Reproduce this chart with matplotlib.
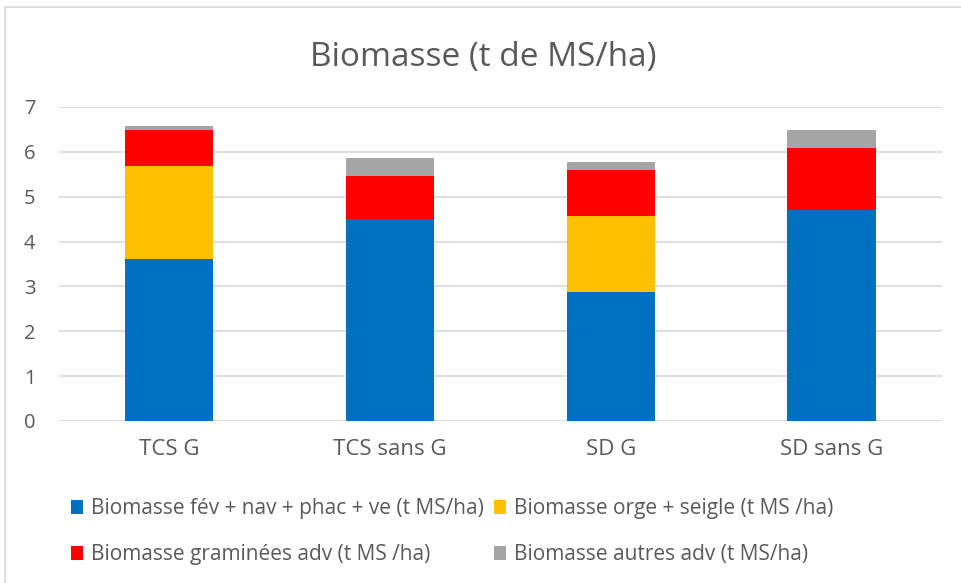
import matplotlib.pyplot as plt
import numpy as np
from matplotlib.patches import Rectangle

plt.rcParams['font.family'] = ['Open Sans', 'DejaVu Sans']

# Data
categories = ['TCS G', 'TCS sans G', 'SD G', 'SD sans G']
series_names = [
    'Biomasse fév + nav + phac + ve (t MS/ha)',
    'Biomasse orge + seigle (t MS /ha)',
    'Biomasse graminées adv (t MS /ha)',
    'Biomasse autres adv (t MS/ha)',
]
fev_nav = [3.6, 4.5, 2.87, 4.7]
orge_seigle = [2.08, 0.0, 1.7, 0.0]
graminees_adv = [0.8, 0.97, 1.02, 1.38]
autres_adv = [0.09, 0.39, 0.18, 0.4]
colors = ['#0070C0', '#FFC000', '#FF0000', '#A5A5A5']

fig = plt.figure(figsize=(9.61, 5.83), dpi=100)
ax = fig.add_axes([0.0614, 0.2779, 0.9186, 0.5386])

x = np.arange(len(categories))
bottom = np.zeros(len(categories))
handles = []
for vals, name, col in zip([fev_nav, orge_seigle, graminees_adv, autres_adv], series_names, colors):
    b = ax.bar(x, vals, width=0.4, bottom=bottom, color=col, label=name, zorder=3)
    handles.append(b)
    bottom += np.array(vals)

ax.set_xlim(-0.5, len(categories) - 0.5)
ax.set_ylim(0, 7)
ax.set_yticks(range(0, 8))
ax.set_xticks(x)
ax.set_xticklabels(categories)
ax.grid(axis='y', color='#D9D9D9', linewidth=1.2, zorder=0)
for s in ax.spines.values():
    s.set_visible(False)
ax.tick_params(axis='both', length=0, colors='#595959')
ax.tick_params(axis='y', pad=17, labelsize=14.5)
ax.tick_params(axis='x', pad=13, labelsize=16)

fig.text(0.503, 0.902, 'Biomasse (t de MS/ha)', ha='center', va='center',
         fontsize=24, color='#595959')

# legend fills column by column, so order it to read row by row
order = [0, 2, 1, 3]
fig.legend([handles[i] for i in order], [series_names[i] for i in order],
           ncol=2, loc='upper left', bbox_to_anchor=(0.074, 0.145),
           frameon=False, fontsize=15, labelcolor='#595959',
           handlelength=0.58, handleheight=0.65, handletextpad=0.38,
           columnspacing=0.48, labelspacing=1.2, borderpad=0, borderaxespad=0)

# outer chart frame
fig.patches.append(Rectangle((0.005, -0.01), 1.1, 0.998, transform=fig.transFigure,
                             fill=False, edgecolor='#D9D9D9', linewidth=1.2))

fig.savefig('out.png', dpi=100)
